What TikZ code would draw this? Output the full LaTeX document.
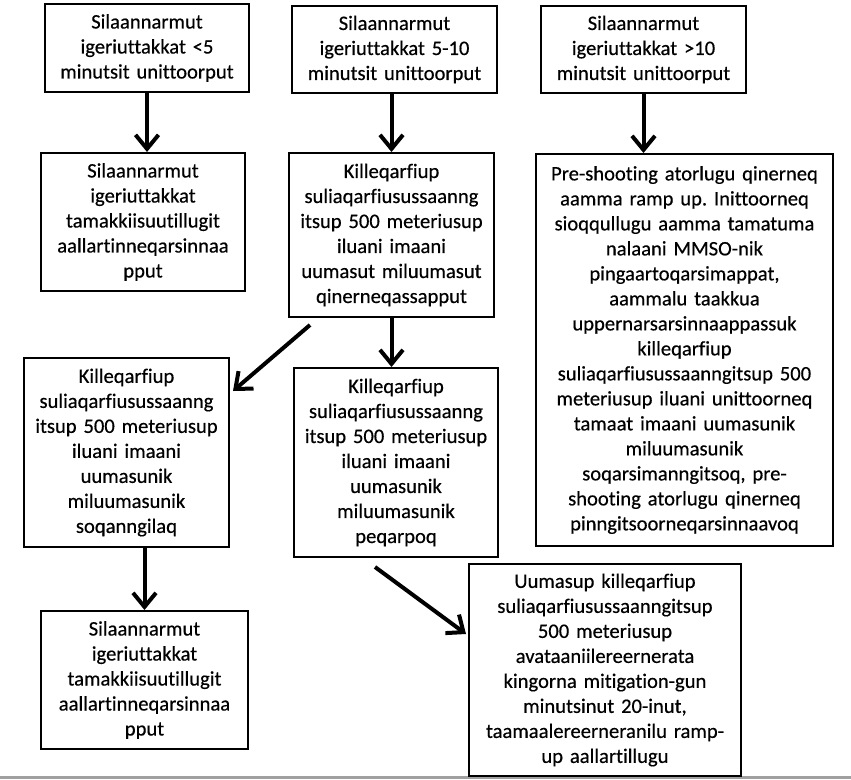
\documentclass[tikz,border=0pt]{standalone}
\usepackage{fontspec}
\setmainfont[Ligatures={NoCommon}]{Carlito}
\newfontfamily\boxfont[Ligatures={NoCommon}, FakeBold=0.45]{Carlito}
\usetikzlibrary{arrows.meta}
\frenchspacing

\begin{document}
\begin{tikzpicture}[x=1pt, y=1pt]
    \tikzstyle{arrow} = [-{Straight Barb[length=14pt, width=23pt]}, line width=4pt]
    \tikzstyle{rec} = [rectangle, draw=black, line width=2pt, align=center,
        inner sep=0pt, anchor=north west,
        font=\boxfont\fontsize{20.6}{25}\selectfont]

    \useasboundingbox (0,0) rectangle (851,-779);
    \draw[line width=3pt, color={rgb,255:red,160;green,160;blue,160}]
        (0,-777.5) -- (851,-777.5);

    \node(short) [rec, text width=198pt, minimum width=204pt,
        minimum height=88pt]
        at (44,-3)
        {Silaannarmut\\ igeriuttakkat <5\\ minutsit unittoorput};
    \node(medium) [rec, text width=198pt, minimum width=205pt,
        minimum height=87pt]
        at (291,-5)
        {Silaannarmut\\ igeriuttakkat 5-10\\ minutsit unittoorput};
    \node(long) [rec, text width=198pt, minimum width=205pt,
        minimum height=87pt]
        at (540,-5)
        {Silaannarmut\\ igeriuttakkat >10\\ minutsit unittoorput};

    \node(shortfull) [rec, text width=198pt, minimum width=204pt,
        minimum height=138pt]
        at (40,-152)
        {Silaannarmut\\ igeriuttakkat\\ tamakkiisuutillugit\\
        aallartinneqarsinnaa\\ pput};
    \node(mediumcheck) [rec, text width=198pt, minimum width=205pt,
        minimum height=164pt]
        at (288,-152)
        {Killeqarfiup\\ suliaqarfiusussaanng\\ itsup 500 meteriusup\\
        iluani imaani\\ uumasut miluumasut\\ qinerneqassapput};
    \node(longcheck) [rec, text width=292pt, minimum width=297pt,
        minimum height=392pt]
        at (535,-153)
        {Pre-shooting atorlugu qinerneq\\ aamma ramp up. Inittoorneq\\
        sioqqullugu aamma tamatuma\\ nalaani MMSO-nik\\
        pingaartoqarsimappat,\\ aammalu taakkua\\
        uppernarsarsinnaappassuk\\ killeqarfiup\\
        suliaqarfiusussaanngitsup 500\\ meteriusup iluani unittoorneq\\
        tamaat imaani uumasunik\\ miluumasunik\\
        soqarsimanngitsoq, pre-\\ shooting atorlugu qinerneq\\
        pinngitsoorneqarsinnaavoq};

    \node(mediumno) [rec, text width=198pt, minimum width=205pt,
        minimum height=189pt]
        at (23,-357)
        {Killeqarfiup\\ suliaqarfiusussaanng\\ itsup 500 meteriusup\\
        iluani imaani\\ uumasunik\\ miluumasunik\\ soqanngilaq};
    \node(mediumyes) [rec, text width=198pt, minimum width=204pt,
        minimum height=189pt]
        at (293,-367)
        {Killeqarfiup\\ suliaqarfiusussaanng\\ itsup 500 meteriusup\\
        iluani imaani\\ uumasunik\\ miluumasunik\\ peqarpoq};

    \node(shortafter) [rec, text width=198pt, minimum width=207pt,
        minimum height=138pt]
        at (40,-610)
        {Silaannarmut\\ igeriuttakkat\\ tamakkiisuutillugit\\
        aallartinneqarsinnaa\\ pput};
    \node(mitigation) [rec, text width=266pt, minimum width=272pt,
        minimum height=212pt]
        at (468,-563)
        {Uumasup killeqarfiup\\ suliaqarfiusussaanngitsup\\
        500 meteriusup\\ avataaniilereernerata\\
        kingorna mitigation-gun\\ minutsinut 20-inut,\\
        taamaalereerneranilu ramp-\\ up aallartillugu};

    \draw[arrow] (short.south) -- (short.south |- shortfull.north);
    \draw[arrow] (mediumcheck.north |- medium.south) -- (mediumcheck.north);
    \draw[arrow] (long.south) -- (long.south |- longcheck.north);
    \draw[arrow] (mediumcheck.south) -- (mediumcheck.south |- mediumyes.north);
    \draw[arrow] (shortafter.north |- mediumno.south) -- (shortafter.north);

    \draw[arrow] ([xshift=22pt, yshift=-7pt]mediumcheck.south west)
        -- ([xshift=3pt, yshift=-34pt]mediumno.north east);
    \draw[arrow] ([xshift=82pt, yshift=-9pt]mediumyes.south west)
        -- ([xshift=-2pt, yshift=-71pt]mitigation.north west);
\end{tikzpicture}
\end{document}
